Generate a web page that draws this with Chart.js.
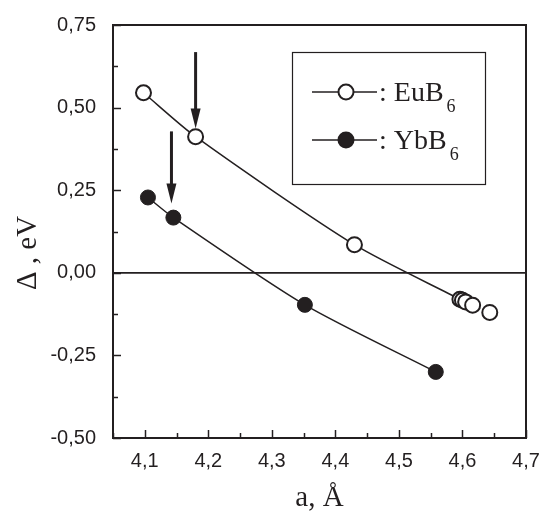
<!DOCTYPE html>
<html>
<head>
<meta charset="utf-8">
<script src="https://cdn.jsdelivr.net/npm/chart.js@4.4.1/dist/chart.umd.min.js"></script>
<style>
  html, body { margin: 0; padding: 0; background: #fff; }
  #wrap { width: 543px; height: 511px; }
</style>
</head>
<body>
<div id="wrap"><canvas id="deltaChart" width="543" height="511"></canvas></div>
<script>
// measured points, lattice constant a (Å) vs Δ (eV)
const eubA = [4.098, 4.180, 4.430, 4.596, 4.600, 4.605, 4.616, 4.643];
const eubDelta = [0.545, 0.412, 0.085, -0.080, -0.083, -0.088, -0.098, -0.120];
const ybbA = [4.105, 4.145, 4.352, 4.558];
const ybbDelta = [0.228, 0.167, -0.097, -0.300];

// guide curves as drawn in the figure
const eubCurveA = [4.098, 4.180, 4.430, 4.596];
const eubCurveDelta = [0.545, 0.412, 0.085, -0.080];
const ybbCurveA = [4.105, 4.145, 4.352, 4.558];
const ybbCurveDelta = [0.228, 0.167, -0.097, -0.300];

// arrows pointing at the marked points
const arrowA = [4.180, 4.142];
const arrowFrom = [0.668, 0.428];
const arrowTo = [0.437, 0.210];

const xTicks = [4.1, 4.2, 4.3, 4.4, 4.5, 4.6, 4.7];
const yTicks = [-0.50, -0.25, 0.00, 0.25, 0.50, 0.75];
const xRange = [4.05, 4.7];
const yRange = [-0.5, 0.75];
const zeroLevel = 0;

const ink = '#231f20';
const toXY = (xs, ys) => xs.map((x, i) => ({ x: x, y: ys[i] }));

const framePlugin = {
  id: 'frame',
  beforeDatasetsDraw(chart) {
    const ctx = chart.ctx;
    const a = chart.chartArea;
    const xs = chart.scales.x;
    const ys = chart.scales.y;
    ctx.save();
    ctx.strokeStyle = ink;
    ctx.lineWidth = 1.5;
    // inward ticks on bottom and left
    for (let v = 4.05; v <= 4.701; v += 0.05) {
      const px = Math.round(xs.getPixelForValue(v)) + 0.5;
      const major = Math.abs(v * 10 - Math.round(v * 10)) < 0.01;
      ctx.beginPath();
      ctx.moveTo(px, a.bottom);
      ctx.lineTo(px, a.bottom - (major ? 8 : 5));
      ctx.stroke();
    }
    for (let v = -0.5; v <= 0.751; v += 0.125) {
      const py = Math.round(ys.getPixelForValue(v)) + 0.5;
      const major = Math.abs(v * 4 - Math.round(v * 4)) < 0.01;
      ctx.beginPath();
      ctx.moveTo(a.left, py);
      ctx.lineTo(a.left + (major ? 8 : 5), py);
      ctx.stroke();
    }
    ctx.restore();
  },
  afterDatasetsDraw(chart) {
    const ctx = chart.ctx;
    const a = chart.chartArea;
    const xs = chart.scales.x;
    const ys = chart.scales.y;
    ctx.save();
    ctx.strokeStyle = ink;
    ctx.fillStyle = ink;
    ctx.lineWidth = 2;
    ctx.strokeRect(a.left, a.top, a.right - a.left, a.bottom - a.top);

    // arrows
    arrowA.forEach((v, i) => {
      const px = xs.getPixelForValue(v);
      const y0 = ys.getPixelForValue(arrowFrom[i]);
      const y1 = ys.getPixelForValue(arrowTo[i]);
      ctx.lineWidth = 3;
      ctx.beginPath();
      ctx.moveTo(px, y0);
      ctx.lineTo(px, y1 - 16);
      ctx.stroke();
      ctx.beginPath();
      ctx.moveTo(px - 5, y1 - 20);
      ctx.lineTo(px + 5, y1 - 20);
      ctx.lineTo(px, y1);
      ctx.closePath();
      ctx.fill();
    });

    // legend box
    ctx.lineWidth = 1.2;
    ctx.strokeRect(292.5, 52.5, 193, 132);
    const rows = [
      { y: 92, name: 'EuB', fill: '#fff' },
      { y: 140, name: 'YbB', fill: ink }
    ];
    rows.forEach(r => {
      ctx.lineWidth = 1.5;
      ctx.strokeStyle = ink;
      ctx.beginPath();
      ctx.moveTo(312, r.y);
      ctx.lineTo(377, r.y);
      ctx.stroke();
      ctx.beginPath();
      ctx.arc(346, r.y, 7.5, 0, Math.PI * 2);
      ctx.fillStyle = r.fill;
      ctx.fill();
      ctx.lineWidth = 2;
      ctx.stroke();
      ctx.fillStyle = ink;
      ctx.textAlign = 'left';
      ctx.textBaseline = 'alphabetic';
      ctx.font = '28px "Liberation Serif"';
      const main = ': ' + r.name;
      ctx.fillText(main, 379, r.y + 9);
      const w = ctx.measureText(main).width;
      ctx.font = '18px "Liberation Serif"';
      ctx.fillText('6', 379 + w + 3, r.y + 20);
    });

    // axis titles
    ctx.font = '29px "Liberation Serif"';
    ctx.textAlign = 'center';
    ctx.textBaseline = 'alphabetic';
    ctx.fillText('a, Å', (a.left + a.right) / 2, 506);
    ctx.translate(36, 253);
    ctx.rotate(-Math.PI / 2);
    ctx.fillText('Δ , eV', 0, 0);
    ctx.restore();
  }
};

new Chart(document.querySelector('#deltaChart'), {
  type: 'scatter',
  data: {
    datasets: [
      {
        label: 'EuB6',
        data: toXY(eubA, eubDelta),
        pointRadius: 7.5,
        pointBackgroundColor: '#fff',
        pointBorderColor: ink,
        pointBorderWidth: 2,
        showLine: false,
        order: 0
      },
      {
        label: 'YbB6',
        data: toXY(ybbA, ybbDelta),
        pointRadius: 7.5,
        pointBackgroundColor: ink,
        pointBorderColor: ink,
        pointBorderWidth: 1,
        showLine: false,
        order: 0
      },
      {
        label: 'EuB6 curve',
        data: toXY(eubCurveA, eubCurveDelta),
        showLine: true,
        pointRadius: 0,
        borderColor: ink,
        borderWidth: 1.5,
        tension: 0.25,
        order: 1
      },
      {
        label: 'YbB6 curve',
        data: toXY(ybbCurveA, ybbCurveDelta),
        showLine: true,
        pointRadius: 0,
        borderColor: ink,
        borderWidth: 1.5,
        tension: 0.25,
        order: 1
      },
      {
        label: 'zero',
        data: toXY(xRange, [zeroLevel, zeroLevel]),
        showLine: true,
        pointRadius: 0,
        borderColor: ink,
        borderWidth: 1.8,
        order: 2
      }
    ]
  },
  options: {
    responsive: false,
    animation: false,
    devicePixelRatio: 1,
    layout: { padding: { left: 0, top: 25, right: 17, bottom: 0 } },
    plugins: {
      legend: { display: false },
      tooltip: { enabled: false }
    },
    scales: {
      x: {
        type: 'linear',
        min: xRange[0],
        max: xRange[1],
        grid: { display: false },
        border: { display: false },
        afterBuildTicks: s => { s.ticks = xTicks.map(v => ({ value: v })); },
        afterFit: s => { s.height = 73; s.paddingLeft = 0; s.paddingRight = 0; },
        ticks: {
          padding: 3,
          color: ink,
          font: { family: 'Liberation Sans', size: 20 },
          callback: v => v.toFixed(1).replace('.', ',')
        }
      },
      y: {
        type: 'linear',
        min: yRange[0],
        max: yRange[1],
        grid: { display: false },
        border: { display: false },
        afterBuildTicks: s => { s.ticks = yTicks.map(v => ({ value: v })); },
        afterFit: s => { s.width = 113; },
        ticks: {
          padding: 9,
          color: ink,
          font: { family: 'Liberation Sans', size: 20 },
          callback: v => v.toFixed(2).replace('.', ',')
        }
      }
    }
  },
  plugins: [framePlugin]
});
</script>
</body>
</html>
